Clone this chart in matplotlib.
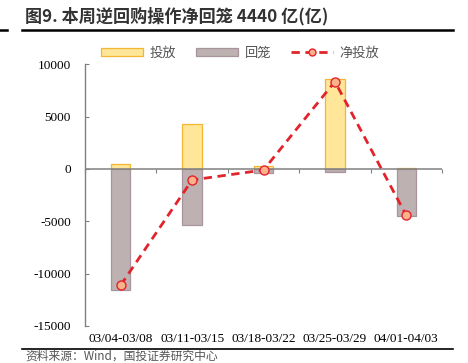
import matplotlib
matplotlib.use("Agg")
import matplotlib.pyplot as plt
from matplotlib.lines import Line2D
import numpy as np

plt.rcParams['font.family'] = ['Noto Sans CJK SC', 'DejaVu Sans']

categories = ["03/04-03/08", "03/11-03/15", "03/18-03/22", "03/25-03/29", "04/01-04/03"]
injection = [500, 4300, 300, 8600, 60]          # 投放
withdrawal = [-11600, -5350, -400, -250, -4500]  # 回笼
net = [-11100, -1050, -100, 8350, -4440]         # 净投放
yticks = [10000, 5000, 0, -5000, -10000, -15000]

W, H = 468, 363
fig = plt.figure(figsize=(W / 100, H / 100), dpi=100)
ax = fig.add_axes([85 / W, 1 - 326 / H, (442 - 85) / W, (326 - 64.3) / H])

x = np.arange(len(categories))
bw = 0.27
ax.bar(x, injection, width=bw, color='#FFE699', edgecolor='#F2B632', linewidth=0.9, zorder=2, label='投放')
ax.bar(x, withdrawal, width=bw, color='#BDB1B1', edgecolor='#A8949C', linewidth=0.9, zorder=2, label='回笼')
ax.plot(x, net, color='#E3232C', linestyle=(0, (3, 2)), linewidth=2, marker='o', markersize=6.5,
        markerfacecolor='#F9B28A', markeredgecolor='#E3232C', markeredgewidth=1, zorder=4, label='净投放')

ax.set_xlim(-0.5, len(categories) - 0.5)
ax.set_ylim(-15000, 10000)
ax.axhline(0, color='#808080', linewidth=1.1, zorder=3)

for s in ['top', 'right', 'bottom']:
    ax.spines[s].set_visible(False)
ax.spines['left'].set_color('#808080')
ax.spines['left'].set_linewidth(1.0)

ax.set_yticks(yticks)
ax.set_yticklabels([str(v) for v in yticks], family='Liberation Serif', fontsize=9.5)
ax.tick_params(axis='y', direction='in', length=3, color='#808080', pad=10)

ax.set_xticks(x)
ax.set_xticklabels(categories, family='Liberation Serif', fontsize=9.5)
ax.tick_params(axis='x', length=0, pad=5)

sec = ax.secondary_xaxis(0.6)
sec.set_xticks(np.arange(len(categories) + 1) - 0.5)
sec.set_xticklabels([])
sec.tick_params(direction='in', length=3, color='#808080')
sec.spines['bottom'].set_visible(False)
sec.spines['top'].set_visible(False)

leg = fig.legend(handles=[
    plt.Rectangle((0, 0), 1, 1, facecolor='#FFE699', edgecolor='#F2B632', linewidth=0.9),
    plt.Rectangle((0, 0), 1, 1, facecolor='#BDB1B1', edgecolor='#A8949C', linewidth=0.9),
    Line2D([0], [0], color='#E3232C', linestyle=(0, (3, 2)), linewidth=2, marker='o', markersize=5,
           markerfacecolor='#F9B28A', markeredgecolor='#E3232C')],
    labels=['投放', '回笼', '净投放'], loc='center', bbox_to_anchor=(240 / W, 1 - 53 / H),
    ncol=3, frameon=False, fontsize=9.5, handlelength=3.2, handleheight=0.5, columnspacing=1.5,
    handletextpad=0.5)
for t in leg.get_texts():
    t.set_color('#555555')

fig.text(25 / W, 1 - 16 / H, '图9. 本周逆回购操作净回笼 4440 亿(亿)', fontsize=12.3, fontweight='bold',
         color='#333333', va='center', ha='left')
fig.add_artist(Line2D([22 / W, 453 / W], [1 - 30 / H, 1 - 30 / H], color='black', linewidth=1.8))
fig.add_artist(Line2D([0, 7 / W], [1 - 30 / H, 1 - 30 / H], color='black', linewidth=1.8))
fig.add_artist(Line2D([22 / W, 453 / W], [1 - 349 / H, 1 - 349 / H], color='black', linewidth=1.2))
fig.text(25 / W, 1 - 356 / H, '资料来源：Wind，国投证券研究中心', fontsize=8.5, style='italic',
         color='#555555', va='center', ha='left')

fig.savefig('out.png', dpi=100)
